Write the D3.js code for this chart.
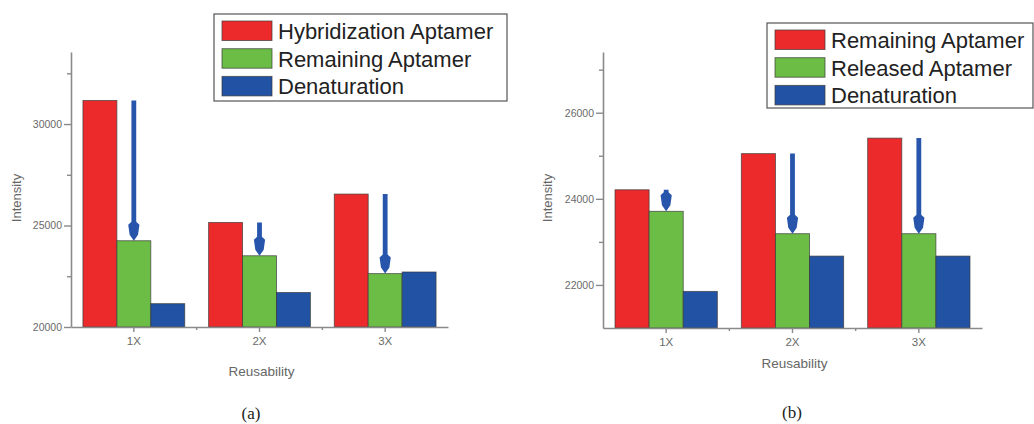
<!DOCTYPE html>
<html>
<head>
<meta charset="utf-8">
<script src="https://cdn.jsdelivr.net/npm/d3@7"></script>
<style>
  html, body { margin: 0; padding: 0; background: #fff; }
  svg { display: block; }
</style>
</head>
<body>
<svg id="chart" width="1034" height="424"></svg>
<script>
// ---------- data ----------
const categories = ["1X", "2X", "3X"];

// panel (a)
const seriesA = ["Hybridization Aptamer", "Remaining Aptamer", "Denaturation"];
const hybridizationA = [31160, 25150, 26550];
const remainingA = [24250, 23510, 22630];
const denaturationA = [21150, 21700, 22710];
const majorTicksA = [20000, 25000, 30000];
const minorTicksA = [22500, 27500, 32500];

// panel (b)
const seriesB = ["Remaining Aptamer", "Released Aptamer", "Denaturation"];
const remainingB = [24210, 25050, 25410];
const releasedB = [23710, 23190, 23190];
const denaturationB = [21850, 22670, 22670];
const majorTicksB = [22000, 24000, 26000];
const minorTicksB = [23000, 25000, 27000];

const colors = ["#ec2a2c", "#6bbd45", "#2152a3"];
const arrowColor = "#2755ab";

const svg = d3.select("#chart");
const FONT = "'Liberation Sans', Arial, sans-serif";

function drawPanel(opt) {
  const g = svg.append("g");
  const x0 = d3.scaleBand().domain(categories).range([opt.left, opt.right]).paddingInner(0).paddingOuter(0);
  const bw = x0.bandwidth();
  const groupW = bw * 0.81;
  const off = (bw - groupW) / 2;
  const xi = d3.scaleBand().domain(opt.series).range([0, groupW]);
  const y = d3.scaleLinear().domain(opt.domain).range([opt.bottom, opt.top]);

  const values = [opt.s1, opt.s2, opt.s3];

  // bars
  opt.series.forEach((s, si) => {
    g.selectAll(null).data(categories).enter().append("rect")
      .attr("x", c => x0(c) + off + xi(s))
      .attr("y", (c, i) => y(values[si][i]))
      .attr("width", xi.bandwidth())
      .attr("height", (c, i) => y(opt.domain[0]) - y(values[si][i]))
      .attr("fill", colors[si])
      .attr("stroke", "#3a3a3a")
      .attr("stroke-opacity", 0.75)
      .attr("stroke-width", 0.9);
  });

  // arrows: from first series value down to second series value, centered on second bar
  categories.forEach((c, i) => {
    const cx = x0(c) + off + xi(opt.series[1]) + xi.bandwidth() / 2;
    const y1 = y(values[0][i]);
    const y2 = y(values[1][i]);
    const headL = Math.min(19, (y2 - y1));
    const sw = 2.4, hw = 5.6;
    const p = d3.path();
    p.moveTo(cx - sw, y1);
    p.lineTo(cx + sw, y1);
    p.lineTo(cx + sw, y2 - headL);
    p.lineTo(cx + hw, y2 - headL + 3);
    p.lineTo(cx + hw * 0.75, y2 - 6);
    p.lineTo(cx, y2);
    p.lineTo(cx - hw * 0.75, y2 - 6);
    p.lineTo(cx - hw, y2 - headL + 3);
    p.lineTo(cx - sw, y2 - headL);
    p.closePath();
    g.append("path").attr("d", p.toString()).attr("fill", arrowColor);
  });

  // y axis
  const yAxis = d3.axisLeft(y).tickValues(opt.majorTicks).tickSize(7).tickSizeOuter(0)
    .tickFormat(d3.format("d"));
  const ya = g.append("g").attr("transform", `translate(${opt.left},0)`).call(yAxis);
  ya.select(".domain").attr("stroke", "#8a8a8a").attr("stroke-width", 1.6);
  ya.selectAll(".tick line").attr("stroke", "#8a8a8a").attr("stroke-width", 1.4);
  ya.selectAll(".tick text").attr("fill", "#6a6a6a").attr("font-size", "10.5px")
    .attr("font-family", FONT).attr("x", -9);
  const yMinor = d3.axisLeft(y).tickValues(opt.minorTicks).tickSize(4).tickFormat("");
  const ym = g.append("g").attr("transform", `translate(${opt.left},0)`).call(yMinor);
  ym.select(".domain").remove();
  ym.selectAll(".tick line").attr("stroke", "#8a8a8a").attr("stroke-width", 1.4);

  // x axis
  const xAxis = d3.axisBottom(x0).tickSize(5).tickSizeOuter(0);
  const xa = g.append("g").attr("transform", `translate(0,${opt.bottom})`).call(xAxis);
  xa.select(".domain").attr("stroke", "#8a8a8a").attr("stroke-width", 1.6);
  xa.selectAll(".tick line").attr("stroke", "#8a8a8a").attr("stroke-width", 1.4);
  xa.selectAll(".tick text").attr("fill", "#6a6a6a").attr("font-size", "11.5px")
    .attr("font-family", FONT).attr("y", 10);
  // minor x ticks at band boundaries
  g.selectAll(null).data(categories.slice(1)).enter().append("line")
    .attr("x1", c => x0(c)).attr("x2", c => x0(c))
    .attr("y1", opt.bottom).attr("y2", opt.bottom + 3)
    .attr("stroke", "#8a8a8a").attr("stroke-width", 1.4);

  // axis titles
  g.append("text").attr("x", (opt.left + opt.right) / 2 + 2).attr("y", opt.xTitleY)
    .attr("text-anchor", "middle").attr("font-family", FONT).attr("font-size", "13.5px")
    .attr("fill", "#666").text("Reusability");
  g.append("text").attr("transform", `translate(${opt.yTitleX},${opt.yTitleY}) rotate(-90)`)
    .attr("text-anchor", "middle").attr("font-family", FONT).attr("font-size", "13px")
    .attr("fill", "#666").text("Intensity");

  // caption
  g.append("text").attr("x", opt.capX).attr("y", opt.capY).attr("text-anchor", "middle")
    .attr("font-family", "'Liberation Serif', 'DejaVu Serif', serif").attr("font-size", "17px")
    .attr("fill", "#222").text(opt.caption);

  // legend
  const L = opt.legend;
  const lg = g.append("g");
  lg.append("rect").attr("x", L.x).attr("y", L.y).attr("width", L.w).attr("height", L.h)
    .attr("fill", "#fff").attr("stroke", "#555").attr("stroke-width", 1.2);
  opt.series.forEach((s, si) => {
    const ry = L.y + 7 + si * 27.7;
    lg.append("rect").attr("x", L.x + 8).attr("y", ry).attr("width", 50).attr("height", 19.5)
      .attr("fill", colors[si]).attr("stroke", "#3a3a3a").attr("stroke-opacity", 0.7).attr("stroke-width", 1);
    lg.append("text").attr("x", L.x + 64).attr("y", ry + 10.5)
      .attr("dominant-baseline", "central").attr("font-family", FONT).attr("font-size", "22px")
      .attr("fill", "#222").text(s);
  });
}

drawPanel({
  series: seriesA, s1: hybridizationA, s2: remainingA, s3: denaturationA,
  majorTicks: majorTicksA, minorTicks: minorTicksA,
  domain: [20000, 33550],
  left: 71, right: 448, top: 52, bottom: 327,
  xTitleY: 376, yTitleX: 21, yTitleY: 198,
  capX: 251, capY: 419, caption: "(a)",
  legend: { x: 214, y: 14, w: 293, h: 87 }
});

drawPanel({
  series: seriesB, s1: remainingB, s2: releasedB, s3: denaturationB,
  majorTicks: majorTicksB, minorTicks: minorTicksB,
  domain: [21000, 27410],
  left: 603, right: 982, top: 52, bottom: 328,
  xTitleY: 368, yTitleX: 552, yTitleY: 198,
  capX: 792, capY: 418, caption: "(b)",
  legend: { x: 767, y: 23, w: 266, h: 85 }
});
</script>
</body>
</html>
